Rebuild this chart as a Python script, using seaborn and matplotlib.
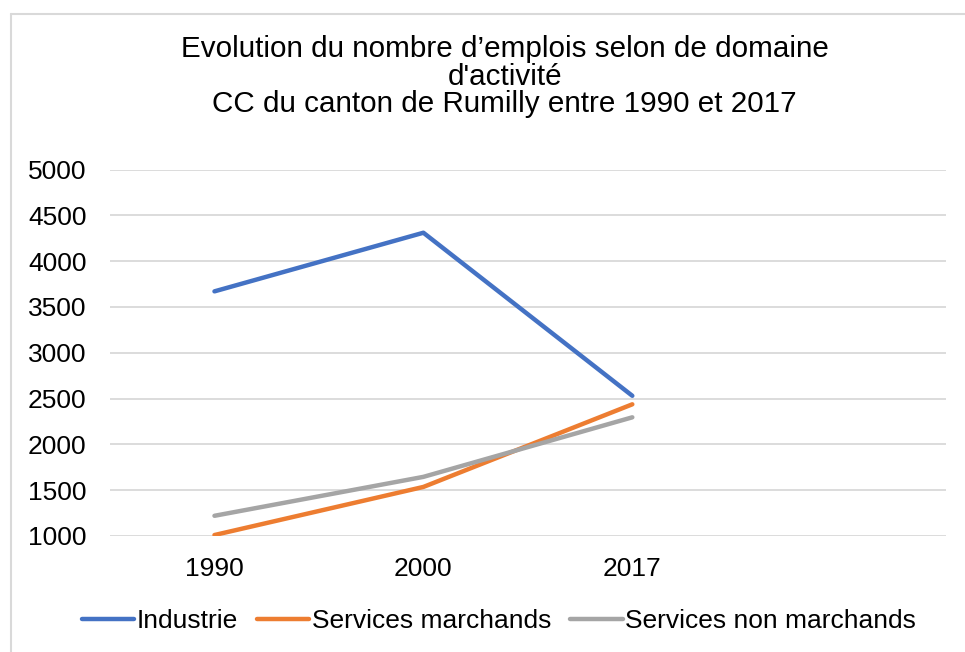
import pandas as pd
import matplotlib
matplotlib.use("Agg")
import matplotlib.pyplot as plt
from matplotlib.lines import Line2D
import seaborn as sns

# données
annees = ["1990", "2000", "2017"]
industrie = [3670, 4310, 2530]
services_marchands = [1010, 1535, 2437]
services_non_marchands = [1220, 1645, 2295]
series = ["Industrie", "Services marchands", "Services non marchands"]
couleurs = ["#4472C4", "#ED7D31", "#A5A5A5"]
y_ticks = [1000, 1500, 2000, 2500, 3000, 3500, 4000, 4500, 5000]

df = pd.DataFrame({
    "annee": annees * 3,
    "emplois": industrie + services_marchands + services_non_marchands,
    "domaine": [s for s in series for _ in annees],
})

sns.set_style("white")
plt.rcParams["font.family"] = ["Liberation Sans", "DejaVu Sans"]
plt.rcParams["text.color"] = "#000000"

fig, ax = plt.subplots(figsize=(9.65, 6.52), dpi=100)
fig.subplots_adjust(left=0.114, right=0.98, top=0.74, bottom=0.178)

sns.lineplot(data=df, x="annee", y="emplois", hue="domaine",
             palette=couleurs, linewidth=3.2, ax=ax, sort=False)

ax.set_xlim(-0.5, 3.5)
ax.set_ylim(1000, 5000)
ax.set_yticks(y_ticks)
ax.set_xticks(range(len(annees)))
ax.set_xticklabels(annees)
ax.tick_params(axis="both", length=0, labelsize=19, colors="#000000")
ax.tick_params(axis="x", pad=15)
ax.tick_params(axis="y", pad=17)
ax.grid(axis="y", color="#D9D9D9", linewidth=1.3)
ax.set_axisbelow(True)
for s in ax.spines.values():
    s.set_visible(False)
ax.set_xlabel("")
ax.set_ylabel("")

fig.suptitle("Evolution du nombre d\u2019emplois selon de domaine\nd'activité\nCC du canton de Rumilly entre 1990 et 2017",
             x=0.523, y=0.946, fontsize=21.3, linespacing=0.98, color="#000000")

handles, labels = ax.get_legend_handles_labels()
ax.get_legend().remove()
fig.legend(handles, labels, loc="center", bbox_to_anchor=(0.517, 0.047),
           ncol=3, frameon=False, fontsize=19, handlelength=2.0,
           handletextpad=0.1, columnspacing=0.7, labelcolor="#000000")

# bordure du cadre (gauche et haut seulement)
fig.add_artist(Line2D([11 / 965, 11 / 965], [0, 1 - 14 / 652], transform=fig.transFigure,
                      color="#D9D9D9", linewidth=1.5))
fig.add_artist(Line2D([11 / 965, 1], [1 - 14 / 652, 1 - 14 / 652], transform=fig.transFigure,
                      color="#D9D9D9", linewidth=1.5))

fig.savefig("out.png", dpi=100)
